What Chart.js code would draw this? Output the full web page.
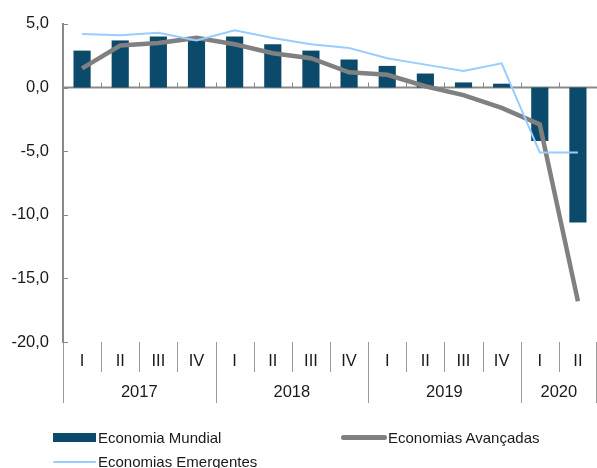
<!DOCTYPE html>
<html>
<head>
<meta charset="utf-8">
<script src="https://cdn.jsdelivr.net/npm/chart.js@4.4.0/dist/chart.umd.min.js"></script>
<style>
  html, body { margin: 0; padding: 0; background: #fff; }
  #wrap { position: relative; width: 597px; height: 468px; font-family: "Liberation Sans", Arial, sans-serif; }
  #grafico { position: absolute; left: 0; top: 0; }
  .sw { position: absolute; }
  .txt { position: absolute; font-size: 15px; line-height: 18px; color: #1a1a1a; white-space: nowrap; }
</style>
</head>
<body>
<div id="wrap">
  <canvas id="grafico" width="597" height="468"></canvas>
  <div id="legenda"></div>
</div>
<script>
// dados (taxa de variação, %)
var trimestres = ['I','II','III','IV','I','II','III','IV','I','II','III','IV','I','II'];
var anos = ['2017','2018','2019','2020'];
var trimPorAno = [4, 4, 4, 2];
var mundial    = [2.9, 3.7, 4.0, 3.9, 4.0, 3.4, 2.9, 2.2, 1.7, 1.1, 0.4, 0.3, -4.2, -10.6];
var avancadas  = [1.5, 3.3, 3.5, 3.9, 3.4, 2.7, 2.3, 1.2, 1.0, 0.1, -0.6, -1.6, -2.9, -16.8];
var emergentes = [4.2, 4.1, 4.3, 3.7, 4.5, 3.9, 3.4, 3.1, 2.3, 1.8, 1.3, 1.9, -5.1, -5.1];
var nomes = ['Economia Mundial', 'Economias Avançadas', 'Economias Emergentes'];

var corBarra = '#0c4a6b';
var corAvanc = '#808080';
var corEmerg = '#99ccff';
var corEixo = '#898989';

function fmt(v) {
  return v.toFixed(1).replace('.', ',');
}

// eixo zero, marcas internas e eixo das categorias (trimestres / anos)
var eixos = {
  id: 'eixos',
  beforeDatasetsDraw: function(chart) {
    var ctx = chart.ctx, xs = chart.scales.x, ys = chart.scales.y, area = chart.chartArea;
    var y0 = ys.getPixelForValue(0);
    var w = xs.getPixelForValue(1) - xs.getPixelForValue(0);
    ctx.save();
    ctx.strokeStyle = corEixo;
    ctx.lineWidth = 2;
    ctx.beginPath();
    ctx.moveTo(area.left, y0);
    ctx.lineTo(area.right, y0);
    ctx.stroke();
    ctx.lineWidth = 1;
    ctx.beginPath();
    for (var i = 1; i <= trimestres.length; i++) {
      var x = Math.round(xs.getPixelForValue(i) - w / 2) + 0.5;
      ctx.moveTo(x, y0);
      ctx.lineTo(x, y0 - 5);
    }
    // marcas do eixo y para dentro
    ys.ticks.forEach(function(t) {
      var y = Math.round(ys.getPixelForValue(t.value)) + 0.5;
      ctx.moveTo(area.left, y);
      ctx.lineTo(area.left + 5, y);
    });
    ctx.stroke();
    ctx.restore();
  },
  afterDraw: function(chart) {
    var ctx = chart.ctx, xs = chart.scales.x, area = chart.chartArea;
    var base = area.bottom;
    var w = xs.getPixelForValue(1) - xs.getPixelForValue(0);
    var limites = [0];
    var acc = 0;
    for (var a = 0; a < trimPorAno.length; a++) { acc += trimPorAno[a]; limites.push(acc); }

    ctx.save();
    ctx.strokeStyle = '#9a9a9a';
    ctx.lineWidth = 1;
    ctx.beginPath();
    for (var i = 0; i <= trimestres.length; i++) {
      var x = Math.round(xs.getPixelForValue(i) - w / 2) + 0.5;
      if (i == trimestres.length) x = Math.min(x, chart.width - 0.5);
      var alto = limites.indexOf(i) >= 0 ? 61 : 30;
      ctx.moveTo(x, base);
      ctx.lineTo(x, base + alto);
    }
    ctx.stroke();

    ctx.fillStyle = '#1a1a1a';
    ctx.font = '16.5px "Liberation Sans", Arial, sans-serif';
    ctx.textAlign = 'center';
    ctx.textBaseline = 'middle';
    for (var j = 0; j < trimestres.length; j++) {
      ctx.fillText(trimestres[j], xs.getPixelForValue(j), base + 19);
    }
    for (var k = 0; k < anos.length; k++) {
      var xa = (xs.getPixelForValue(limites[k]) + xs.getPixelForValue(limites[k + 1] - 1)) / 2;
      ctx.fillText(anos[k], xa, base + 50);
    }
    ctx.restore();
  }
};

var chartdata = {
  labels: trimestres,
  datasets: [{
    type: 'line',
    label: nomes[2],
    data: emergentes,
    borderColor: corEmerg,
    backgroundColor: corEmerg,
    borderWidth: 2,
    pointRadius: 0,
    tension: 0,
    order: 1
  }, {
    type: 'line',
    label: nomes[1],
    data: avancadas,
    borderColor: corAvanc,
    backgroundColor: corAvanc,
    borderWidth: 4.5,
    pointRadius: 0,
    tension: 0,
    order: 2
  }, {
    type: 'bar',
    label: nomes[0],
    data: mundial,
    backgroundColor: corBarra,
    barPercentage: 0.45,
    categoryPercentage: 1,
    order: 3
  }]
};

var graficar = document.getElementById('grafico');
var grafico = new Chart(graficar, {
  data: chartdata,
  plugins: [eixos],
  options: {
    responsive: false,
    animation: false,
    layout: { padding: { top: 21, bottom: 126, left: 0, right: 0 } },
    plugins: { legend: { display: false }, tooltip: { enabled: false } },
    scales: {
      x: { display: false, offset: true },
      y: {
        min: -20,
        max: 5,
        afterFit: function(s) { s.width = 63; },
        grid: { display: false, drawTicks: false },
        border: { display: true, color: corEixo, width: 2 },
        ticks: {
          stepSize: 5,
          padding: 14,
          color: '#1a1a1a',
          font: { family: '"Liberation Sans", Arial, sans-serif', size: 16.5 },
          callback: function(v) { return fmt(v); }
        }
      }
    }
  }
});

// legenda construída a partir das séries do gráfico
var posLegenda = [
  { ds: 2, x: 53, y: 437.5, w: 43, h: 9, texto: 98 },
  { ds: 1, x: 341, y: 437.5, w: 46, h: 5, texto: 388 },
  { ds: 0, x: 53, y: 461.5, w: 43, h: 2, texto: 98 }
];
var legenda = document.getElementById('legenda');
posLegenda.forEach(function(p) {
  var ds = chartdata.datasets[p.ds];
  var sw = document.createElement('div');
  sw.className = 'sw';
  sw.style.left = p.x + 'px';
  sw.style.top = (p.y - p.h / 2) + 'px';
  sw.style.width = p.w + 'px';
  sw.style.height = p.h + 'px';
  sw.style.background = ds.backgroundColor;
  if (ds.type == 'line') sw.style.borderRadius = (p.h / 2) + 'px';
  legenda.appendChild(sw);
  var t = document.createElement('div');
  t.className = 'txt';
  t.style.left = p.texto + 'px';
  t.style.top = (p.y - 9) + 'px';
  t.textContent = ds.label;
  legenda.appendChild(t);
});
</script>
</body>
</html>
